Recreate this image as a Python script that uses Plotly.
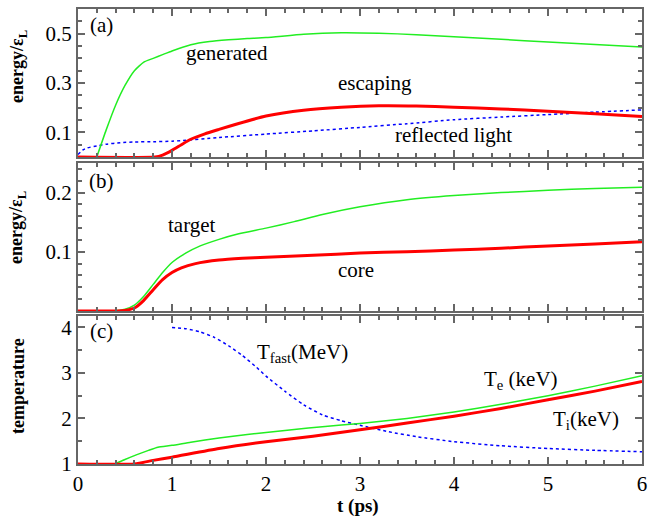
import plotly.graph_objects as go

# ---------------- data ----------------
# panel (a)
gen_t = [0.2, 0.3, 0.4, 0.5, 0.6, 0.7, 0.8, 0.9, 1.0, 1.2, 1.4, 1.6, 1.8, 2.0, 2.4, 2.8, 3.2, 3.6, 4.0, 4.5, 5.0, 5.5, 6.0]
gen_v = [0.0, 0.11, 0.21, 0.29, 0.35, 0.385, 0.40, 0.415, 0.43, 0.455, 0.468, 0.475, 0.48, 0.484, 0.498, 0.504, 0.502, 0.496, 0.488, 0.477, 0.466, 0.456, 0.446]

esc_t = [0, 0.82, 0.9, 1.0, 1.1, 1.2, 1.35, 1.5, 1.7, 2.0, 2.4, 2.8, 3.2, 3.6, 4.0, 4.5, 5.0, 5.5, 6.0]
esc_v = [0, 0, 0.008, 0.027, 0.05, 0.072, 0.094, 0.112, 0.135, 0.166, 0.19, 0.202, 0.208, 0.207, 0.202, 0.195, 0.186, 0.175, 0.164]

ref_t = [0, 0.05, 0.1, 0.2, 0.3, 0.45, 0.6, 0.8, 1.0, 1.5, 2.0, 2.5, 3.0, 3.5, 4.0, 4.5, 5.0, 5.5, 6.0]
ref_v = [0.01, 0.028, 0.037, 0.045, 0.052, 0.058, 0.061, 0.062, 0.064, 0.079, 0.093, 0.106, 0.12, 0.135, 0.151, 0.162, 0.172, 0.182, 0.191]

# panel (b)
tgt_t = [0, 0.38, 0.5, 0.6, 0.7, 0.8, 0.9, 1.0, 1.15, 1.3, 1.5, 1.7, 2.0, 2.3, 2.6, 3.0, 3.5, 4.0, 4.5, 5.0, 5.5, 6.0]
tgt_v = [0, 0, 0.003, 0.01, 0.025, 0.045, 0.065, 0.082, 0.098, 0.11, 0.121, 0.13, 0.14, 0.151, 0.163, 0.176, 0.188, 0.195, 0.2, 0.204, 0.207, 0.209]

core_t = [0, 0.42, 0.5, 0.6, 0.7, 0.8, 0.9, 1.0, 1.1, 1.25, 1.5, 1.75, 2.0, 2.5, 3.0, 3.5, 4.0, 4.5, 5.0, 5.5, 6.0]
core_v = [0, 0, 0.001, 0.005, 0.018, 0.036, 0.053, 0.065, 0.073, 0.08, 0.086, 0.089, 0.091, 0.094, 0.098, 0.1, 0.103, 0.106, 0.11, 0.113, 0.117]

# panel (c)
te_t = [0.39, 0.5, 0.62, 0.75, 0.85, 1.0, 1.2, 1.5, 1.8, 2.0, 2.3, 2.6, 3.0, 3.5, 4.0, 4.5, 5.0, 5.5, 6.0]
te_v = [1.0, 1.1, 1.2, 1.3, 1.37, 1.41, 1.48, 1.57, 1.65, 1.69, 1.76, 1.82, 1.89, 2.0, 2.14, 2.31, 2.5, 2.71, 2.94]

ti_t = [0, 0.6, 0.8, 1.0, 1.5, 2.0, 2.5, 3.0, 3.5, 4.0, 4.5, 5.0, 5.5, 6.0]
ti_v = [1, 1, 1.08, 1.15, 1.34, 1.49, 1.61, 1.75, 1.9, 2.05, 2.22, 2.41, 2.6, 2.81]

tf_t = [1.0, 1.15, 1.3, 1.45, 1.6, 1.75, 1.9, 2.0, 2.2, 2.4, 2.6, 2.8, 3.0, 3.3, 3.6, 4.0, 4.5, 5.0, 5.5, 6.0]
tf_v = [4.0, 3.97, 3.9, 3.78, 3.6, 3.38, 3.12, 2.93, 2.6, 2.3, 2.08, 1.95, 1.85, 1.71, 1.6, 1.49, 1.4, 1.34, 1.3, 1.27]

x_ticks = [0, 1, 2, 3, 4, 5, 6]

# ---------------- styles ----------------
GREEN = "#22ee22"
RED = "#ff0000"
BLUE = "#0000ff"
FRAME = "#666666"
FONT = "Times New Roman, Liberation Serif, DejaVu Serif"

fig = go.Figure()

def line(x, y, color, width, dash, xa, ya):
    fig.add_trace(go.Scatter(x=x, y=y, mode="lines", xaxis=xa, yaxis=ya,
                             line=dict(color=color, width=width, dash=dash, shape="spline", smoothing=0.5),
                             showlegend=False, hoverinfo="skip"))

line(ref_t, ref_v, BLUE, 1.5, "dot", "x", "y")
line(gen_t, gen_v, GREEN, 1.5, "solid", "x", "y")
line(esc_t, esc_v, RED, 3, "solid", "x", "y")

line(tgt_t, tgt_v, GREEN, 1.5, "solid", "x2", "y2")
line(core_t, core_v, RED, 3, "solid", "x2", "y2")

line(tf_t, tf_v, BLUE, 1.5, "dot", "x3", "y3")
line(te_t, te_v, GREEN, 1.5, "solid", "x3", "y3")
line(ti_t, ti_v, RED, 3, "solid", "x3", "y3")

common_axis = dict(showline=True, linecolor=FRAME, linewidth=2, mirror="allticks",
                   ticks="inside", tickcolor=FRAME, tickwidth=1.5, showgrid=False,
                   zeroline=False, automargin=False,
                   tickfont=dict(family=FONT, size=21, color="black"))

xcommon = dict(common_axis, range=[0, 6], tickvals=x_ticks, ticklen=7,
               minor=dict(dtick=0.2, tick0=0, ticks="inside", ticklen=4, tickcolor=FRAME, tickwidth=1.5))

dom_a = [0.6747, 1.0]
dom_b = [0.3363, 0.6615]
dom_c = [0.0, 0.3253]

fig.update_layout(
    width=664, height=517,
    margin=dict(l=78, r=22, t=9, b=53),
    paper_bgcolor="white", plot_bgcolor="white",
    font=dict(family=FONT, size=21, color="black"),
    xaxis=dict(xcommon, anchor="y", showticklabels=False),
    xaxis2=dict(xcommon, anchor="y2", showticklabels=False),
    xaxis3=dict(xcommon, anchor="y3", showticklabels=True),
    yaxis=dict(common_axis, domain=dom_a, anchor="x", range=[0, 0.6], tick0=0.1, dtick=0.2,
               tickformat=".1f", ticklen=7,
               minor=dict(dtick=0.05, tick0=0, ticks="inside", ticklen=4, tickcolor=FRAME, tickwidth=1.5)),
    yaxis2=dict(common_axis, domain=dom_b, anchor="x2", range=[0, 0.25], tickvals=[0.1, 0.2],
                ticktext=["0.1", "0.2"], ticklen=7,
                minor=dict(dtick=0.02, tick0=0, ticks="inside", ticklen=4, tickcolor=FRAME, tickwidth=1.5)),
    yaxis3=dict(common_axis, domain=dom_c, anchor="x3", range=[1, 4.25], tickvals=[1, 2, 3, 4], ticklen=7,
                minor=dict(dtick=0.5, tick0=1, ticks="inside", ticklen=4, tickcolor=FRAME, tickwidth=1.5)),
)

ann = []
def txt(x, y, t, xr, yr, size=21):
    ann.append(dict(x=x, y=y, xref=xr, yref=yr, text=t, showarrow=False,
                    font=dict(family=FONT, size=size, color="black"), xanchor="center", yanchor="middle"))

txt(0.25, 0.535, "(a)", "x", "y")
txt(1.585, 0.422, "generated", "x", "y")
txt(3.16, 0.30, "escaping", "x", "y")
txt(3.99, 0.09, "reflected light", "x", "y")

txt(0.25, 0.22, "(b)", "x2", "y2")
txt(1.21, 0.145, "target", "x2", "y2")
txt(2.96, 0.069, "core", "x2", "y2")

txt(0.25, 3.91, "(c)", "x3", "y3")
txt(2.39, 3.44, "T<sub>fast</sub>(MeV)", "x3", "y3")
txt(4.71, 2.85, "T<sub>e</sub> (keV)", "x3", "y3")
txt(5.40, 1.97, "T<sub>i</sub>(keV)", "x3", "y3")

# x-axis title
ann.append(dict(x=(358 - 78) / 564, y=(464 - 506) / 455, xref="paper", yref="paper", text="<b>t (ps)</b>",
                showarrow=False, font=dict(family=FONT, size=19, color="black"),
                xanchor="center", yanchor="middle"))

for yc, t in [((464 - 67) / 455, "<b>energy/ε<sub>L</sub></b>"),
              ((464 - 228) / 455, "<b>energy/ε<sub>L</sub></b>"),
              ((464 - 386) / 455, "<b>temperature</b>")]:
    ann.append(dict(x=(18 - 78) / 564, y=yc, xref="paper", yref="paper", text=t, showarrow=False,
                    textangle=-90, font=dict(family=FONT, size=18, color="black"),
                    xanchor="center", yanchor="middle"))

fig.update_layout(annotations=ann)

fig.write_html("out.html")
